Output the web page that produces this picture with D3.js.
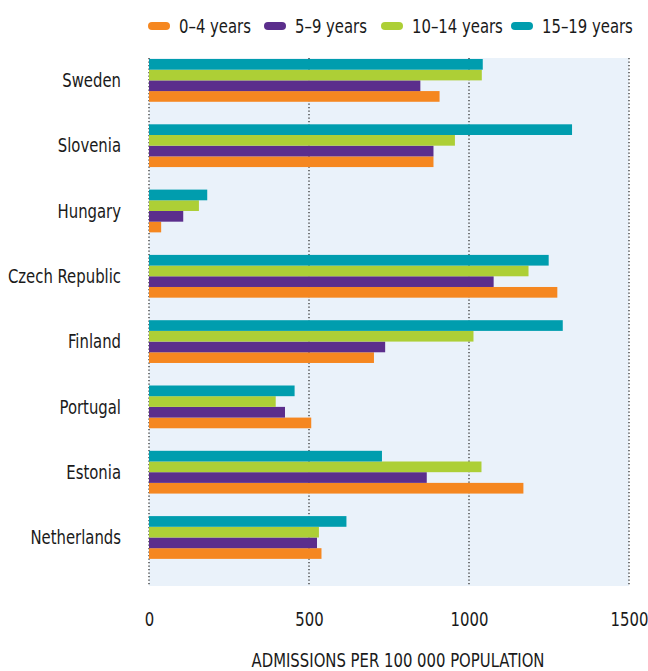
<!DOCTYPE html>
<html>
<head>
<meta charset="utf-8">
<script src="https://cdn.jsdelivr.net/npm/d3@7"></script>
<style>
  body { margin: 0; background: #fff; }
  svg text { font-family: 'DejaVu Sans Condensed', 'Open Sans', sans-serif; fill: #1a1a1a; }
</style>
</head>
<body>
<svg width="648" height="671"></svg>
<script>
// données
var pays = ['Sweden', 'Slovenia', 'Hungary', 'Czech Republic', 'Finland', 'Portugal', 'Estonia', 'Netherlands'];
var groupes = ['0–4 years', '5–9 years', '10–14 years', '15–19 years'];
var ans0a4 = [908, 889, 38, 1276, 703, 507, 1170, 539];
var ans5a9 = [848, 889, 107, 1077, 738, 425, 868, 525];
var ans10a14 = [1040, 956, 156, 1186, 1014, 396, 1039, 531];
var ans15a19 = [1043, 1322, 182, 1249, 1293, 455, 728, 617];
var ticksX = [0, 500, 1000, 1500];
var couleurs = ['#f58720', '#5b2e8c', '#adcf36', '#009dae'];

var series = [ans0a4, ans5a9, ans10a14, ans15a19];

var svg = d3.select('svg');

// la police condensée n'existe pas ici : on serre le texte en largeur
var serre = 0.87;
function place(sel, px, py) {
    sel.attr('transform', (d, i) => 'translate(' + px(d, i) + ',' + py(d, i) + ') scale(' + serre + ',1)');
}

// zone du graphique
var gauche = 149, droite = 629, haut = 58, bas = 586;

var x = d3.scaleLinear().domain([0, 1500]).range([gauche, droite]);

var y = d3.scaleBand().domain(pays).range([59, 59 + 8 * 65.3])
    .paddingInner(0.345).paddingOuter(0.1725).align(0);

// les barres du haut vers le bas : 15-19, 10-14, 5-9, 0-4
var ySub = d3.scaleBand().domain([3, 2, 1, 0]).range([0, y.bandwidth()]);

// fond bleu clair
svg.append('rect').attr('x', gauche).attr('y', haut)
    .attr('width', droite - gauche).attr('height', bas - haut)
    .attr('fill', '#eaf2fa');

// lignes pointillées
svg.selectAll('.grille').data(ticksX).enter().append('line')
    .attr('class', 'grille')
    .attr('x1', d => x(d)).attr('x2', d => x(d))
    .attr('y1', haut).attr('y2', bas)
    .attr('stroke', '#333').attr('stroke-width', 1.3)
    .attr('stroke-dasharray', '1.3,2.2');

// barres
var grp = svg.selectAll('.pays').data(pays).enter().append('g')
    .attr('class', 'pays')
    .attr('transform', d => 'translate(0,' + y(d) + ')');

grp.selectAll('rect').data((d, i) => series.map((s, k) => ({ k: k, v: s[i] })))
    .enter().append('rect')
    .attr('x', x(0))
    .attr('y', d => ySub(d.k))
    .attr('width', d => x(d.v) - x(0))
    .attr('height', ySub.bandwidth())
    .attr('fill', d => couleurs[d.k]);

// étiquettes des pays
var noms = svg.selectAll('.nom').data(pays).enter().append('text')
    .attr('class', 'nom')
    .attr('dy', '0.35em')
    .attr('text-anchor', 'end')
    .attr('font-size', 19)
    .text(d => d);
place(noms, () => 121, d => y(d) + y.bandwidth() / 2);

// axe x (chiffres seulement)
var axe = svg.append('g').attr('transform', 'translate(0,612)')
    .call(d3.axisBottom(x).tickValues(ticksX).tickSize(0).tickPadding(0).tickFormat(d3.format('d')));
axe.select('.domain').remove();
axe.selectAll('text').attr('font-size', 19).attr('dy', '0.71em')
    .attr('transform', 'scale(' + serre + ',1)')
    .style('font-family', null);

var titre = svg.append('text')
    .attr('dy', '0.35em')
    .attr('text-anchor', 'middle')
    .attr('font-size', 19)
    .text('ADMISSIONS PER 100 000 POPULATION');
place(titre, () => 398, () => 660);

// légende
var legX = [148, 264, 381, 511];
var leg = svg.selectAll('.leg').data(groupes).enter().append('g')
    .attr('class', 'leg')
    .attr('transform', (d, i) => 'translate(' + legX[i] + ',26)');
leg.append('rect').attr('x', 0).attr('y', -4).attr('width', 22).attr('height', 8)
    .attr('rx', 4).attr('fill', (d, i) => couleurs[i]);
var legTxt = leg.append('text').attr('dy', '0.35em').attr('font-size', 19).text(d => d);
place(legTxt, () => 31, () => 0);
</script>
</body>
</html>
